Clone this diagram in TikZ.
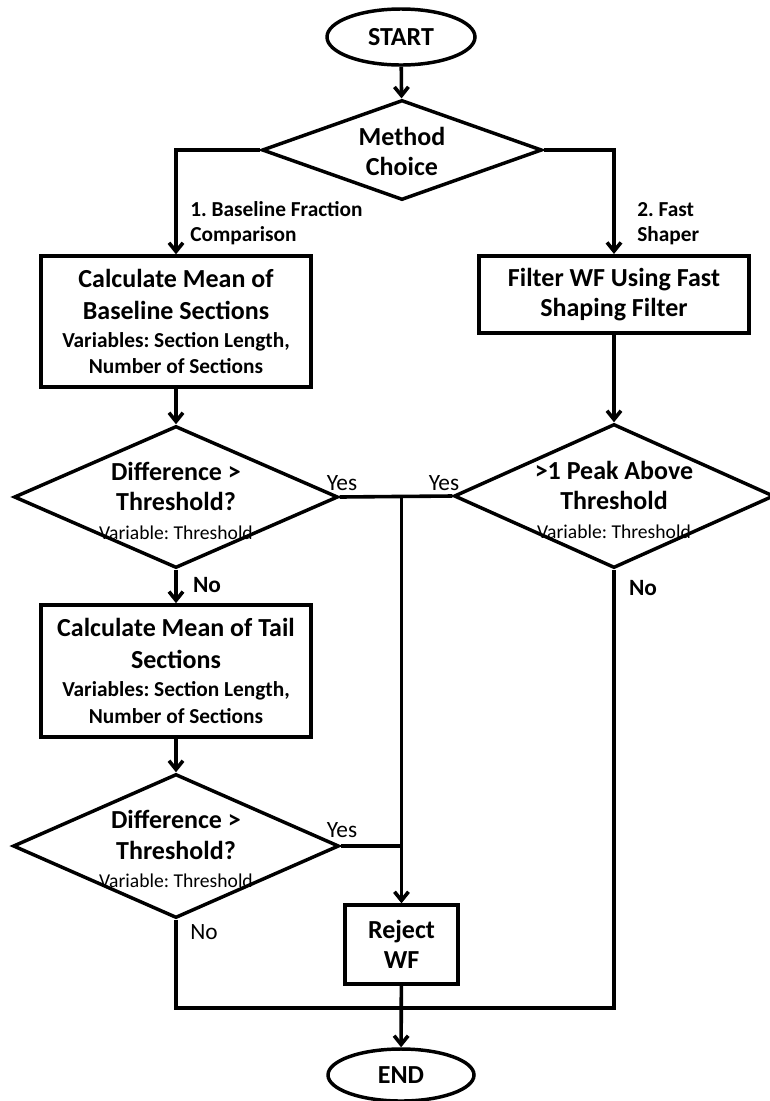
\documentclass[tikz,border=0pt]{standalone}
\usepackage{fontspec}
\setmainfont{Carlito}
\usetikzlibrary{arrows.meta, shapes.geometric}
\frenchspacing

\newcommand{\bigtext}{\fontsize{19.5}{24}\selectfont\bfseries}
\newcommand{\smalltext}{\fontsize{16}{20}\selectfont\bfseries}
\newcommand{\vartext}{\fontsize{14.7}{18}\selectfont\mdseries}
\newcommand{\yntext}{\fontsize{17.5}{18}\selectfont}

\tikzset{
  flow/.style={line width=2.7pt, -{Straight Barb[length=6.5pt, width=10.5pt]}},
  link/.style={line width=2.7pt},
  procbox/.style={draw, rectangle, line width=2.8pt, inner sep=0pt, align=center, font=\bigtext},
  decision/.style={draw, diamond, line width=2.6pt, inner sep=0pt},
  terminal/.style={draw, ellipse, line width=2.6pt, inner sep=0pt, font=\bigtext},
  dtext/.style={align=center, inner sep=0pt, font=\bigtext},
  branch/.style={anchor=west, align=left, inner sep=0pt, font=\smalltext},
  yn/.style={inner sep=0pt, font=\yntext}
}

\begin{document}
\begin{tikzpicture}[x=0.75pt, y=-0.75pt]
  \useasboundingbox (0,0) rectangle (770,1101);

  \node[terminal, minimum width=111pt, minimum height=42pt] (start) at (401,37) {START};

  \node[decision, minimum width=210pt, minimum height=75pt,
    label={[dtext, yshift=-1pt]center:{Method\\[-1pt]Choice}}] (method) at (402,150) {};

  \node[procbox, minimum width=203pt, minimum height=98pt] (box1) at (176,321.5)
    {Calculate Mean of\\Baseline Sections\\[-3pt]\smalltext Variables: Section Length,\\[-4pt]\smalltext Number of Sections};
  \node[procbox, minimum width=203pt, minimum height=58pt] (box2) at (614,294.5)
    {Filter WF Using Fast\\[-1pt]Shaping Filter};

  \node[decision, minimum width=243pt, minimum height=106.5pt,
    label={[dtext, yshift=-3pt]center:{Difference >\\[-1.5pt]Threshold?\\[-2pt]\vartext Variable: Threshold}}] (d1) at (176,497) {};
  \node[decision, minimum width=240pt, minimum height=108pt,
    label={[dtext, yshift=-3pt]center:{>1 Peak Above\\[-1.5pt]Threshold\\[-2pt]\vartext Variable: Threshold}}] (d2) at (614,496) {};

  \node[procbox, minimum width=203pt, minimum height=99pt] (box3) at (176,671)
    {Calculate Mean of Tail\\Sections\\[-3pt]\smalltext Variables: Section Length,\\[-4pt]\smalltext Number of Sections};

  \node[decision, minimum width=244.5pt, minimum height=108pt,
    label={[dtext, yshift=-2pt]center:{Difference >\\[-1pt]Threshold?\\[-3pt]\vartext Variable: Threshold}}] (d3) at (176,846) {};

  \node[procbox, minimum width=85pt, minimum height=59pt] (reject) at (401.5,944.5)
    {Reject\\[-1pt]WF};

  \node[terminal, minimum width=109.5pt, minimum height=39pt] (end) at (401,1075) {END};

  \coordinate (bend) at (614,1008);

  % connectors
  \draw[flow] (start) -- (method);
  \draw[flow] (method.west) -| (box1.north);
  \draw[flow] (method.east) -| (box2.north);
  \draw[flow] (box1) -- (d1);
  \draw[flow] (box2) -- (d2);
  \draw[flow] (d1) -- (box3);
  \draw[flow] (box3) -- (d3);
  \draw[link] (d1.east) -- (d2.west);
  \draw[flow] (reject |- d1.east) -- (reject);
  \draw[link] (d3.east) -- (reject |- d3.east);
  \draw[link] (d3.south) |- (bend) -- (d2.south);
  \draw[flow] (reject) -- (end);

  % branch labels
  \node[branch] (lbl1) at (190,223.5) {1. Baseline Fraction\\[-1pt]Comparison};
  \node[branch] (lbl2) at (637,223.5) {2. Fast\\[-1pt]Shaper};
  \node[yn] (yes1) at (342,483) {Yes};
  \node[yn] (yes2) at (444,483) {Yes};
  \node[yn, font=\yntext\bfseries] (no1) at (207,585) {No};
  \node[yn, font=\yntext\bfseries] (no2) at (643,588) {No};
  \node[yn] (yes3) at (342,830) {Yes};
  \node[yn] (no3) at (204,932) {No};

\end{tikzpicture}
\end{document}
